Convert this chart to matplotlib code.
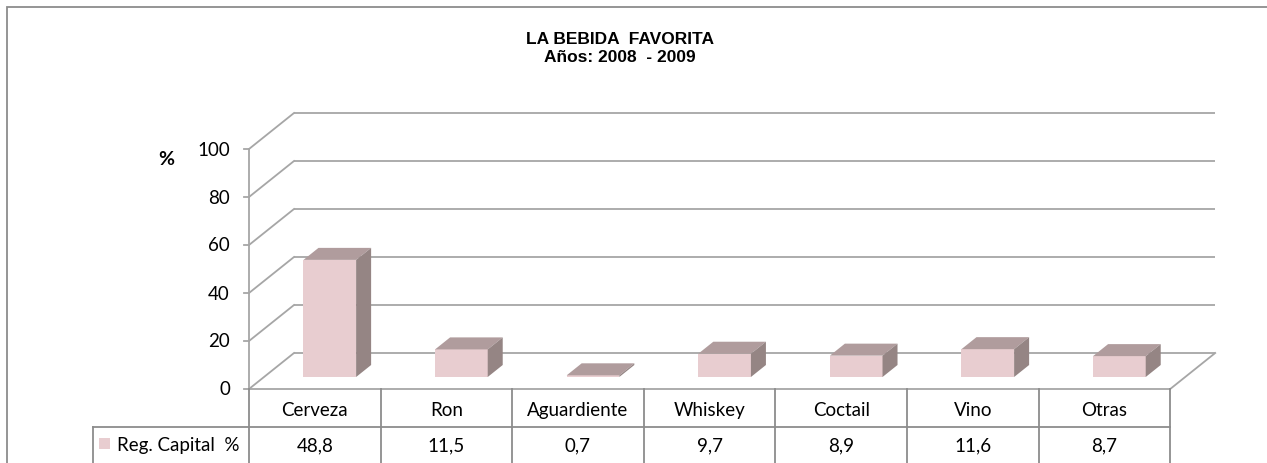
import matplotlib
matplotlib.use("Agg")
import matplotlib.pyplot as plt
from matplotlib.patches import Polygon, Rectangle

categories = ["Cerveza", "Ron", "Aguardiente", "Whiskey", "Coctail", "Vino", "Otras"]
values = [48.8, 11.5, 0.7, 9.7, 8.9, 11.6, 8.7]
value_labels = ["48,8", "11,5", "0,7", "9,7", "8,9", "11,6", "8,7"]
series_name = "Reg. Capital  %"
yticks = [0, 20, 40, 60, 80, 100]

W, H = 1267, 464
fig = plt.figure(figsize=(W / 100, H / 100), dpi=100)

# one axes over the whole figure; x = category units, y = value units
px_x0, px_cat = 249.0, 131.6   # pixel of category 0 edge, pixels per category
px_y0, px_val = 390.0, 2.4     # pixel of value 0, pixels per value unit
ax = fig.add_axes([0, 0, 1, 1])
ax.set_xlim(-px_x0 / px_cat, (W - px_x0) / px_cat)
ax.set_ylim((px_y0 - H) / px_val, px_y0 / px_val)
ax.axis("off")

DX = 45 / px_cat   # depth offset in category units
DY = 36 / px_val   # depth offset in value units
n = len(categories)
grid_c = "#a6a6a6"
lw = 1.3
fs = 13.5
font = "Lato"

# back wall gridlines and left wall diagonals
for v in yticks:
    ax.plot([DX, n + DX], [v + DY, v + DY], color=grid_c, lw=lw, solid_capstyle="butt")
    ax.plot([0, DX], [v, v + DY], color=grid_c, lw=lw)
    ax.plot([-5 / px_cat, 0], [v, v], color=grid_c, lw=lw)
    ax.text(-19 / px_cat, v, str(v), ha="right", va="center", fontsize=fs,
            family=font, color="#000000")

# floor front and right edges
ax.plot([0, n], [0, 0], color=grid_c, lw=lw)
ax.plot([n, n + DX], [0, DY], color=grid_c, lw=lw)
# vertical axis
ax.plot([0, 0], [0, 100], color=grid_c, lw=lw)

ax.text(-83 / px_cat, 96, "%", ha="center", va="center", fontsize=14,
        fontweight="bold", family=font)

# 3D bars
bw = 0.4
d0, d1 = 1 / 3, 2 / 3
front_c, top_c, side_c = "#e8cdd0", "#b09c9d", "#958584"
xs = [i + 0.5 + d0 * DX for i in range(n)]
ax.bar(xs, values, width=bw, bottom=d0 * DY, color=front_c, edgecolor="none", zorder=3)
for x, v in zip(xs, values):
    xl, xr = x - bw / 2, x + bw / 2
    ox, oy = (d1 - d0) * DX, (d1 - d0) * DY
    yb, yt = d0 * DY, v + d0 * DY
    ax.add_patch(Polygon([(xl, yt), (xr, yt), (xr + ox, yt + oy), (xl + ox, yt + oy)],
                         closed=True, facecolor=top_c, edgecolor="none", zorder=3))
    ax.add_patch(Polygon([(xr, yb), (xr + ox, yb + oy), (xr + ox, yt + oy), (xr, yt)],
                         closed=True, facecolor=side_c, edgecolor="none", zorder=3))

# data table
tbl_c = "#8c8c8c"
row1 = (px_y0 - 428) / px_val
bottom = (px_y0 - 470) / px_val
left = (93 - px_x0) / px_cat
for i in range(n + 1):
    ax.plot([i, i], [0, bottom], color=tbl_c, lw=lw)
ax.plot([left, n], [row1, row1], color=tbl_c, lw=lw)
ax.plot([left, left], [row1, bottom], color=tbl_c, lw=lw)
for i, (c, s) in enumerate(zip(categories, value_labels)):
    ax.text(i + 0.5, (px_y0 - 411) / px_val, c, ha="center", va="center",
            fontsize=fs, family=font)
    ax.text(i + 0.5, (px_y0 - 446) / px_val, s, ha="center", va="center",
            fontsize=fs, family=font)
ax.add_patch(Rectangle(((99 - px_x0) / px_cat, (px_y0 - 450) / px_val),
                       11 / px_cat, 11 / px_val, facecolor=front_c, edgecolor="none"))
ax.text((117 - px_x0) / px_cat, (px_y0 - 446) / px_val, series_name, ha="left",
        va="center", fontsize=fs, family=font)

# title
fig.text(620 / W, 1 - 40 / H, "LA BEBIDA  FAVORITA", ha="center", va="center",
         fontsize=12.5, fontweight="bold", family="Liberation Sans")
fig.text(620 / W, 1 - 57 / H, "Años: 2008  - 2009", ha="center", va="center",
         fontsize=12.5, fontweight="bold", family="Liberation Sans")

# chart area border
fig.add_artist(Rectangle((7 / W, -0.1), 1.2, 1.1 - 8 / H, transform=fig.transFigure,
                         fill=False, edgecolor="#8c8c8c", lw=1.3))

fig.savefig("out.png", dpi=100)
